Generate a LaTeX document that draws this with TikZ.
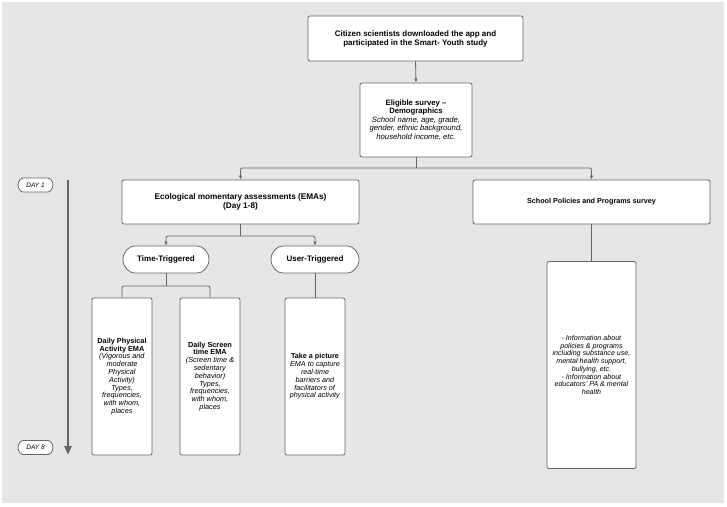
\documentclass[tikz,border=0pt]{standalone}
\usepackage{fontspec}
\setmainfont{Liberation Sans}
\usetikzlibrary{arrows.meta,shapes.misc}
\definecolor{bg}{HTML}{E6E6E6}
\definecolor{ln}{HTML}{666666}
\begin{document}
\begin{tikzpicture}[x=1pt,y=-1pt,
  box/.style={draw=ln, fill=white, rounded corners=2pt, line width=0.8pt, align=center, inner sep=1pt, font=\fontsize{8}{9}\selectfont},
  conn/.style={draw=ln, line width=0.8pt},
  arr/.style={conn, -{Latex[length=4pt,width=3.5pt]}},
]
\useasboundingbox (0,0) rectangle (727,506);
\fill[bg] (2,2) rectangle (724,503);

\node[box, minimum width=215, minimum height=45] (top) at (415.5,38.5)
  {\textbf{Citizen scientists downloaded the app and}\\\textbf{participated in the Smart- Youth study}};
\node[box, minimum width=112, minimum height=74, font=\fontsize{7.7}{8.6}\selectfont] (elig) at (416,120)
  {\textbf{Eligible survey –}\\\textbf{Demographics}\\\textit{School name, age, grade,}\\\textit{gender, ethnic background,}\\\textit{household income, etc.}};
\node[box, minimum width=237, minimum height=44, font=\fontsize{8.2}{9}\selectfont] (ema) at (240.5,202)
  {\textbf{Ecological momentary assessments (EMAs)}\\\textbf{(Day 1-8)}};
\node[box, minimum width=237, minimum height=44, font=\fontsize{7.2}{8}\selectfont] (school) at (591.5,202)
  {\textbf{School Policies and Programs survey}};
\node[box, rounded rectangle, minimum width=88, minimum height=27] (tt) at (166,259.5) {\textbf{Time-Triggered}};
\node[box, rounded rectangle, minimum width=90, minimum height=27] (ut) at (315,259.5) {\textbf{User-Triggered}};

\node[box, minimum width=60, minimum height=157, font=\fontsize{7.3}{7.8}\selectfont] (b1) at (122,376.5)
  {\textbf{Daily Physical}\\\textbf{Activity EMA}\\\textit{(Vigorous and}\\\textit{moderate}\\\textit{Physical}\\\textit{Activity)}\\\textit{Types,}\\\textit{frequencies,}\\\textit{with whom,}\\\textit{places}};
\node[box, minimum width=60, minimum height=157, font=\fontsize{7.3}{7.8}\selectfont] (b2) at (210,376.5)
  {\textbf{Daily Screen}\\\textbf{time EMA}\\\textit{(Screen time \&}\\\textit{sedentary}\\\textit{behavior)}\\\textit{Types,}\\\textit{frequencies,}\\\textit{with whom,}\\\textit{places}};
\node[box, minimum width=60, minimum height=157, font=\fontsize{7.2}{7.8}\selectfont] (b3) at (315,376.5)
  {\textbf{Take a picture}\\\textit{EMA to capture}\\\textit{real-time}\\\textit{barriers and}\\\textit{facilitators of}\\\textit{physical activity}};
\node[box, minimum width=89, minimum height=207, font=\fontsize{7.1}{7.7}\selectfont] (b4) at (591.5,365)
  {\textit{- Information about}\\\textit{policies \& programs}\\\textit{including substance use,}\\\textit{mental health support,}\\\textit{bullying, etc.}\\\textit{- Information about}\\\textit{educators' PA \& mental}\\\textit{health}};

\node[box, rounded rectangle, minimum width=37, minimum height=14, font=\fontsize{6.5}{7}\selectfont] (day1) at (35.5,185) {\textit{DAY 1}};
\node[box, rounded rectangle, minimum width=37, minimum height=14, font=\fontsize{6.5}{7}\selectfont] (day8) at (35.5,447.5) {\textit{DAY 8}};

\coordinate (t1) at (68,180);
\coordinate (t2) at (68,455);
\draw[draw=ln, line width=2.5pt, -{Triangle[length=9pt,width=7pt]}] (t1) -- (t2);

\coordinate (j1) at (416,168);
\coordinate (j2) at (240.5,236);
\coordinate (j3) at (166,286);

\draw[arr] (top.south) -- (elig.north);
\draw[conn] (elig.south) -- (j1);
\draw[arr, rounded corners=2pt] (j1) -| (ema.north);
\draw[arr, rounded corners=2pt] (j1) -| (school.north);
\draw[conn] (ema.south) -- (j2);
\draw[arr, rounded corners=2pt] (j2) -| (tt.north);
\draw[arr, rounded corners=2pt] (j2) -| (ut.north);
\draw[conn] (tt.south) -- (j3);
\draw[conn, rounded corners=2pt] (j3) -| (b1.north);
\draw[conn, rounded corners=2pt] (j3) -| (b2.north);
\draw[conn] (ut.south) -- (b3.north);
\draw[conn] (school.south) -- (b4.north);
\end{tikzpicture}
\end{document}
